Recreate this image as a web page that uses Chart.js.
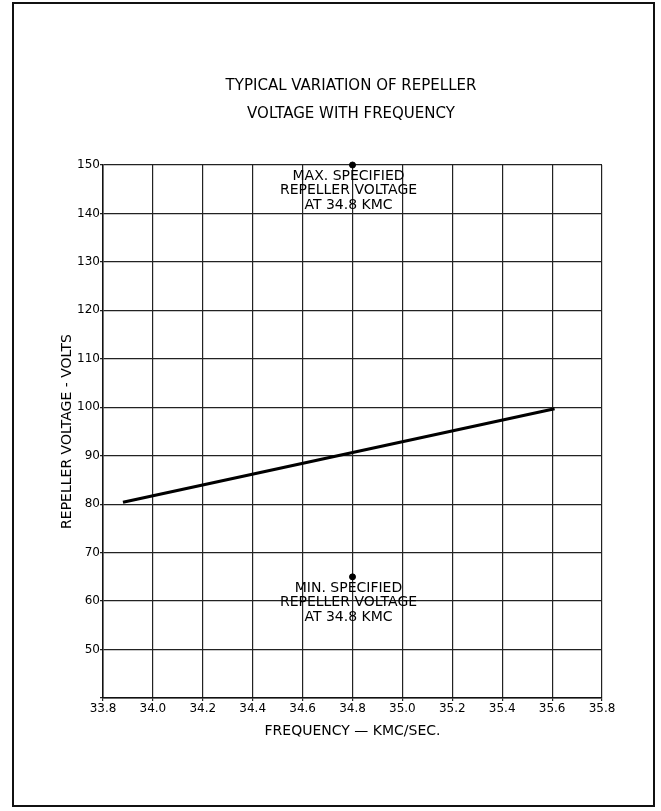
<!DOCTYPE html>
<html>
<head>
<meta charset="utf-8">
<title>Repeller voltage vs frequency</title>
<script src="https://cdn.jsdelivr.net/npm/chart.js@4.4.0/dist/chart.umd.min.js"></script>
<style>
    body { margin: 0; background: #fff; }
    canvas { display: block; }
</style>
</head>
<body>
<canvas id="repChart" width="661" height="811"></canvas>
<script>
// data
var freqTicks = [33.8, 34.0, 34.2, 34.4, 34.6, 34.8, 35.0, 35.2, 35.4, 35.6, 35.8];
var voltTicks = [40, 50, 60, 70, 80, 90, 100, 110, 120, 130, 140, 150];
var lineFreq = [33.88, 35.61];
var lineVolts = [80.4, 99.7];
var specFreq = [34.8, 34.8];
var specVolts = [150, 65];
var specNotes = [
    ["MAX. SPECIFIED", "REPELLER VOLTAGE", "AT 34.8 KMC"],
    ["MIN. SPECIFIED", "REPELLER VOLTAGE", "AT 34.8 KMC"]
];
var titleLines = ["TYPICAL VARIATION OF REPELLER", "VOLTAGE WITH FREQUENCY"];

var FONT = "'DejaVu Sans', sans-serif";

// frame, title and the two notes
var sheetPlugin = {
    id: 'sheet',
    beforeDraw: function (chart) {
        var ctx = chart.ctx;
        ctx.save();
        ctx.fillStyle = '#fff';
        ctx.fillRect(0, 0, chart.width, chart.height);
        ctx.strokeStyle = '#111';
        ctx.lineWidth = 2;
        ctx.strokeRect(13, 3, 641, 803);
        ctx.restore();
    },
    afterDraw: function (chart) {
        var ctx = chart.ctx;
        var xs = chart.scales.x, ys = chart.scales.y;
        ctx.save();
        ctx.fillStyle = '#000';
        ctx.textAlign = 'center';
        ctx.textBaseline = 'middle';
        ctx.font = '15px ' + FONT;
        ctx.fillText(titleLines[0], 351, 86);
        ctx.fillText(titleLines[1], 351, 114);
        ctx.font = '14px ' + FONT;
        for (var i = 0; i < specNotes.length; i++) {
            var px = xs.getPixelForValue(specFreq[i]) - 4;
            var py = ys.getPixelForValue(specVolts[i]) + 11;
            for (var j = 0; j < specNotes[i].length; j++) {
                ctx.fillText(specNotes[i][j], px, py + j * 14.5);
            }
        }
        ctx.restore();
    }
};

new Chart("repChart",
    {
        type: "scatter",
        data:
        {
            datasets:
                [{
                    label: 'Repeller voltage',
                    data: lineFreq.map(function (f, i) { return { x: f, y: lineVolts[i] }; }),
                    showLine: true,
                    borderColor: '#000',
                    borderWidth: 3.2,
                    pointRadius: 0,
                    clip: false
                },
                {
                    label: 'Specified limits',
                    data: specFreq.map(function (f, i) { return { x: f, y: specVolts[i] }; }),
                    showLine: false,
                    backgroundColor: '#000',
                    borderColor: '#000',
                    pointRadius: 3,
                    clip: false
                }]
        },
        options:
        {
            responsive: false,
            animation: false,
            layout: { padding: { top: 165, right: 59, left: 0, bottom: 0 } },
            plugins: {
                legend: { display: false },
                tooltip: { enabled: false }
            },
            scales: {
                x: {
                    type: 'linear',
                    min: 33.8,
                    max: 35.8,
                    afterBuildTicks: function (scale) {
                        scale.ticks = freqTicks.map(function (v) { return { value: v }; });
                    },
                    afterFit: function (scale) { scale.height = 113; },
                    grid: { color: '#222', lineWidth: 1.2, tickLength: 3 },
                    border: { color: '#111', width: 1.5 },
                    ticks: {
                        color: '#000',
                        padding: 1,
                        maxRotation: 0,
                        autoSkip: false,
                        font: { family: FONT, size: 12 },
                        callback: function (v) { return Number(v).toFixed(1); }
                    },
                    title: {
                        display: true,
                        text: 'FREQUENCY — KMC/SEC.',
                        color: '#000',
                        font: { family: FONT, size: 14 },
                        padding: { top: 0, bottom: 71.6 }
                    }
                },
                y: {
                    type: 'linear',
                    min: 40,
                    max: 150,
                    afterBuildTicks: function (scale) {
                        scale.ticks = voltTicks.map(function (v) { return { value: v }; });
                    },
                    afterFit: function (scale) { scale.width = 103; },
                    grid: { color: '#222', lineWidth: 1.2, tickLength: 3 },
                    border: { color: '#111', width: 1.5 },
                    ticks: {
                        color: '#000',
                        padding: 0,
                        autoSkip: false,
                        font: { family: FONT, size: 12 },
                        callback: function (v) { return v === 40 ? '' : v; }
                    },
                    title: {
                        display: true,
                        text: 'REPELLER VOLTAGE - VOLTS',
                        color: '#000',
                        font: { family: FONT, size: 14 },
                        padding: { top: 58.6, bottom: 0 }
                    }
                }
            }
        },
        plugins: [sheetPlugin]
    });
</script>
</body>
</html>
